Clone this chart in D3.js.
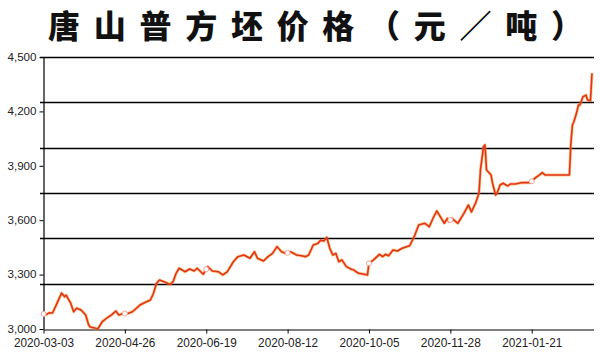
<!DOCTYPE html>
<html><head><meta charset="utf-8">
<script src="https://cdn.jsdelivr.net/npm/d3@7"></script>
<style>body{margin:0;background:#fff}svg{display:block}</style>
</head><body>
<svg id="c" width="600" height="360"></svg>
<script>
const title = "唐山普方坯价格（元／吨）";
const startDate = "2020-03-03";
const endDate = "2021-03-03";
// days since 2020-03-03
const dayOffsets = [0,2,4,6,9,12,14,15,18,20,22,25,28,30,31,34,36,39,42,45,48,50,53,56,59,64,67,71,73,75,77,80,84,86,88,90,94,97,100,102,106,109,112,116,119,122,126,129,133,137,140,142,146,149,152,155,158,161,164,168,171,174,176,179,182,184,186,188,190,192,194,196,198,201,204,206,209,212,215,216,219,223,225,227,229,232,235,238,243,246,249,253,256,259,261,264,266,268,269,271,275,279,282,284,287,289,290,292,293,294,296,297,298,300,301,303,305,308,310,313,317,320,323,326,329,331,333,349,350,351,352,354,355,356,358,360,361,363,364];
const prices = [3083,3080,3090,3088,3143,3198,3178,3187,3143,3095,3115,3105,3077,3022,3011,3005,3000,3040,3060,3077,3099,3077,3086,3086,3095,3132,3145,3160,3197,3252,3270,3261,3246,3261,3307,3335,3316,3331,3320,3335,3302,3344,3320,3316,3298,3316,3371,3399,3408,3390,3426,3390,3375,3399,3417,3454,3426,3417,3426,3408,3404,3399,3408,3463,3472,3490,3485,3505,3445,3408,3417,3371,3381,3344,3331,3325,3307,3303,3298,3362,3381,3412,3399,3412,3404,3436,3430,3445,3459,3509,3574,3583,3564,3619,3651,3610,3583,3610,3592,3610,3583,3638,3684,3645,3700,3748,3877,4006,4015,3877,3859,3849,3804,3739,3748,3794,3804,3789,3800,3800,3807,3807,3807,3831,3849,3862,3849,3849,4024,4125,4143,4199,4235,4235,4281,4290,4263,4259,4410];
const xTickLabels = ["2020-03-03","2020-04-26","2020-06-19","2020-08-12","2020-10-05","2020-11-28","2021-01-21"];
const yTickValues = [3000,3300,3600,3900,4200,4500];
const gridValues = [3250,3500,3750,4000,4250,4500];

const parse = d3.timeParse("%Y-%m-%d");
const t0 = parse(startDate);
const data = dayOffsets.map((d,i)=>({date:d3.timeDay.offset(t0,d), v:prices[i]}));

const svg = d3.select("#c");
const x = d3.scaleTime().domain([t0, parse(endDate)]).range([43.5, 593.5]);
const y = d3.scaleLinear().domain([3000,4500]).range([329, 57]);

// title
svg.append("text").attr("x",48).attr("y",38)
  .attr("textLength",535).attr("lengthAdjust","spacing")
  .style("font-family","'Noto Sans CJK SC'").style("font-weight",900)
  .style("font-size","32px").attr("fill","#111").text(title);

// gridlines
svg.append("g").selectAll("line").data(gridValues).join("line")
  .attr("x1",40).attr("x2",594).attr("y1",d=>Math.round(y(d))+0.5).attr("y2",d=>Math.round(y(d))+0.5)
  .attr("stroke","#000").attr("stroke-width",1.3);

// y axis
const ya = svg.append("g").attr("transform","translate(43.5,0)")
  .call(d3.axisLeft(y).tickValues(yTickValues).tickFormat(d3.format(",")).tickSize(4).tickSizeOuter(0).tickPadding(3));
ya.select(".domain").attr("stroke","#000").attr("stroke-width",1.2);
ya.selectAll(".tick line").attr("stroke","#000");
ya.selectAll("text").style("font-family","'Liberation Sans'").style("font-size","10px").attr("fill","#222")
  .attr("textLength",29).attr("lengthAdjust","spacingAndGlyphs");

// x axis
const xa = svg.append("g").attr("transform","translate(0,329.5)")
  .call(d3.axisBottom(x).tickValues(xTickLabels.map(parse)).tickFormat(d3.timeFormat("%Y-%m-%d")).tickSize(4).tickSizeOuter(0).tickPadding(4));
xa.select(".domain").attr("stroke","#000").attr("stroke-width",1.2);
xa.selectAll(".tick line").attr("stroke","#000");
xa.selectAll("text").style("font-family","'Liberation Sans'").style("font-size","13.5px").attr("fill","#222")
  .attr("textLength",60).attr("lengthAdjust","spacingAndGlyphs");

// line
const line = d3.line().x(d=>x(d.date)).y(d=>y(d.v)).curve(d3.curveLinear);
svg.append("path").datum(data).attr("d",line).attr("fill","none")
  .attr("stroke","#f7931e").attr("stroke-opacity",0.55).attr("stroke-width",3).attr("stroke-linejoin","round");
svg.append("path").datum(data).attr("d",line).attr("fill","none")
  .attr("stroke","#e2341c").attr("stroke-width",1.6).attr("stroke-linejoin","round");

// markers at tick dates
const bis = d3.bisector(d=>d.date).left;
function valAt(dt){
  const i = bis(data, dt);
  if (i<=0) return data[0].v;
  if (i>=data.length) return data[data.length-1].v;
  const a=data[i-1], b=data[i];
  const f=(dt-a.date)/(b.date-a.date);
  return a.v+(b.v-a.v)*f;
}
svg.append("g").selectAll("circle").data(xTickLabels.map(parse)).join("circle")
  .attr("cx",d=>x(d)).attr("cy",d=>y(valAt(d))).attr("r",2.5)
  .attr("fill","#fff").attr("stroke","#f2a49a").attr("stroke-width",1);
</script>
</body></html>
